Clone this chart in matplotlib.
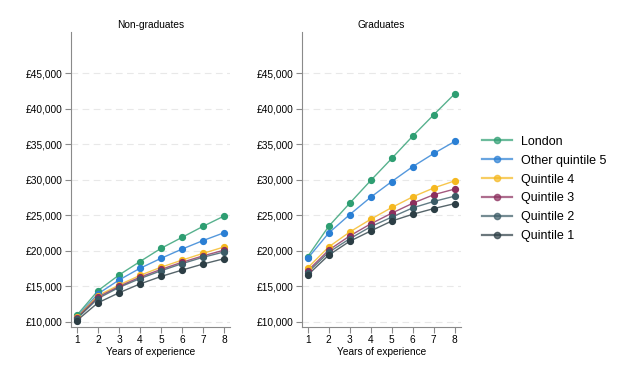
import numpy as np
import matplotlib
matplotlib.use("Agg")
import matplotlib.pyplot as plt
from matplotlib.ticker import FuncFormatter

plt.rcParams['font.family'] = ['Liberation Sans', 'DejaVu Sans']

years = [1, 2, 3, 4, 5, 6, 7, 8]
series = ['London', 'Other quintile 5', 'Quintile 4', 'Quintile 3', 'Quintile 2', 'Quintile 1']
colors = ['#2e9e72', '#2a7fd4', '#f5b820', '#8c2f5e', '#3b5b66', '#2c3e45']

# non-graduates
nongrad = [
    [10950, 14400, 16600, 18500, 20350, 21900, 23450, 24900],
    [10750, 13950, 15900, 17550, 18950, 20250, 21450, 22550],
    [10650, 13700, 15200, 16550, 17700, 18700, 19650, 20550],
    [10550, 13500, 15000, 16300, 17400, 18400, 19300, 20100],
    [10450, 13300, 14850, 16100, 17200, 18200, 19100, 19850],
    [10200, 12700, 14100, 15350, 16400, 17300, 18150, 18900],
]
# graduates
grad = [
    [19200, 23450, 26700, 29900, 33000, 36150, 39150, 42100],
    [18950, 22500, 25100, 27550, 29750, 31850, 33700, 35400],
    [17600, 20550, 22650, 24450, 26100, 27600, 28850, 29850],
    [17200, 20100, 22100, 23800, 25300, 26700, 27900, 28700],
    [16950, 19800, 21700, 23400, 24750, 26050, 26950, 27700],
    [16600, 19400, 21350, 22800, 24200, 25150, 25950, 26650],
]
yticks = [10000, 15000, 20000, 25000, 30000, 35000, 40000, 45000]

fig = plt.figure(figsize=(6.3, 3.78), dpi=100)
ax1 = fig.add_axes([0.1127, 0.135, 0.2523, 0.78])
ax2 = fig.add_axes([0.479, 0.135, 0.2523, 0.78])

for ax, data, title in [(ax1, nongrad, 'Non-graduates'), (ax2, grad, 'Graduates')]:
    for name, vals, c in zip(series, data, colors):
        ax.plot(years, vals, color=c, lw=1.0, alpha=0.8, zorder=3)
        ax.plot(years, vals, color=c, lw=0, marker='o', ms=4.2, zorder=4,
                label=name)
    ax.set_xlim(0.72, 8.28)
    ax.set_ylim(9300, 50760)
    ax.set_xticks(years)
    ax.set_yticks(yticks)
    ax.yaxis.set_major_formatter(FuncFormatter(lambda v, p: '£{:,.0f}'.format(v)))
    ax.grid(axis='y', color='#e8e8e8', lw=0.8, ls=(0, (6, 4)), zorder=0)
    for s in ['top', 'right']:
        ax.spines[s].set_visible(False)
    for s in ['left', 'bottom']:
        ax.spines[s].set_color('#8a8a8a')
        ax.spines[s].set_linewidth(0.8)
    ax.tick_params(axis='both', labelsize=7.3, colors='#8a8a8a', labelcolor='black',
                   length=4, width=0.8, pad=2)
    ax.set_xlabel('Years of experience', fontsize=7.3, labelpad=1)
    ax.set_title(title, fontsize=7.3, pad=3)

handles = []
for name, c in zip(series, colors):
    h, = plt.plot([], [], color=c, lw=1.6, alpha=0.7, marker='o', ms=4.5,
                  markerfacecolor=c, markeredgecolor=c)
    handles.append(h)
fig.legend(handles, series, loc='center left', bbox_to_anchor=(0.765, 0.5),
           frameon=False, fontsize=9, handlelength=2.4, handletextpad=0.7,
           labelspacing=0.55, borderpad=0, borderaxespad=0)

fig.savefig('out.png', dpi=100)
